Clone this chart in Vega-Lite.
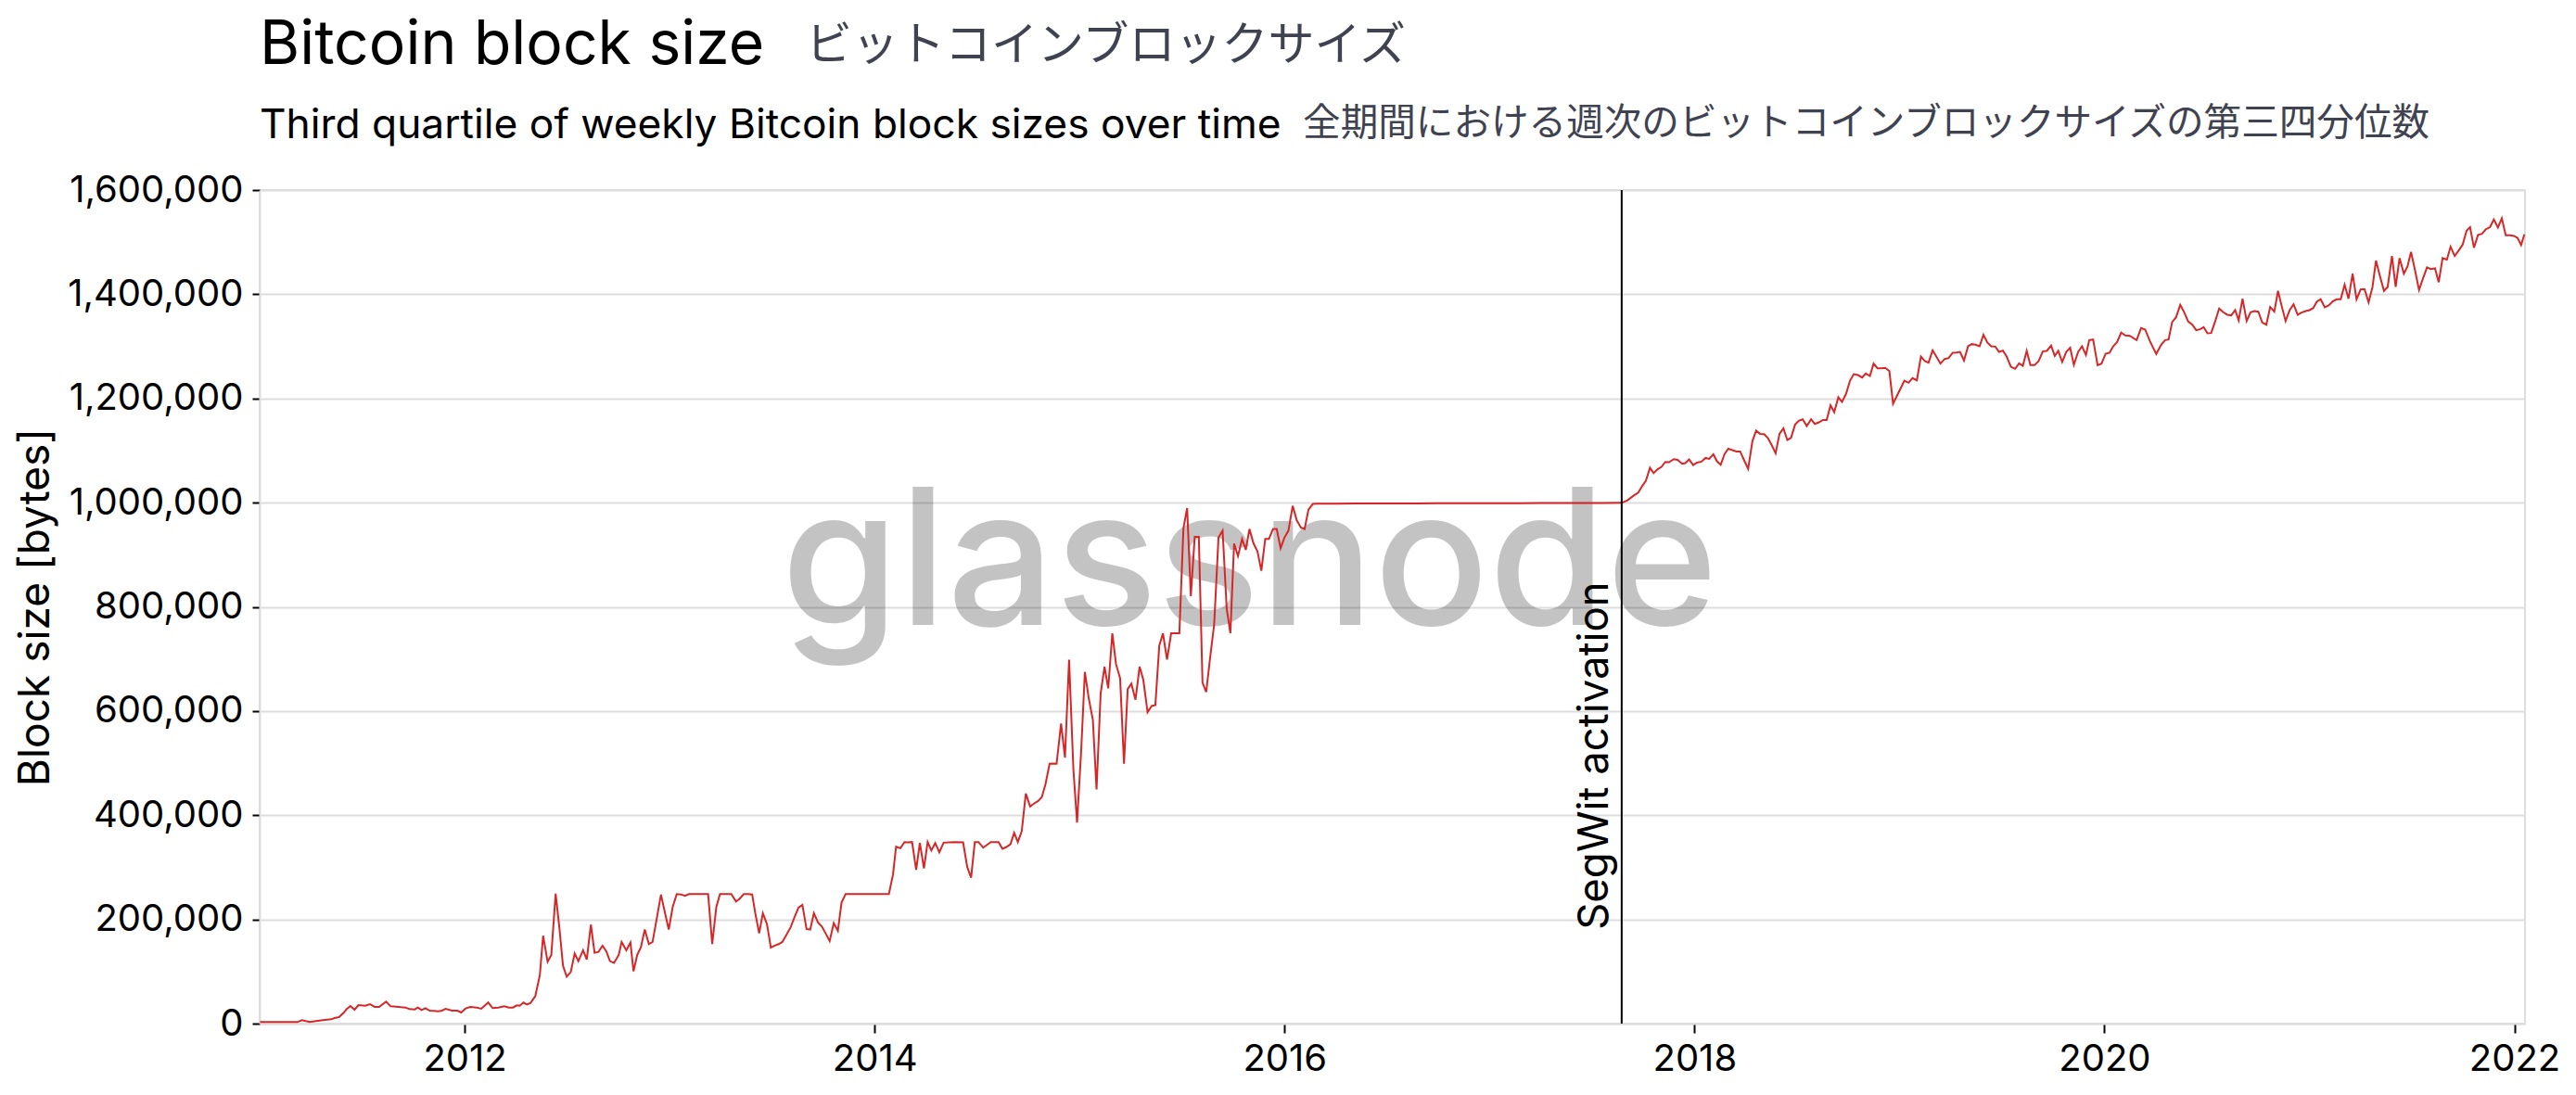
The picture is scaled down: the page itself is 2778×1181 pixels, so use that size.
{
  "$schema": "https://vega.github.io/schema/vega-lite/v6.json",
  "width": 2443,
  "height": 899,
  "autosize": {"type": "none"},
  "padding": {"left": 280, "top": 205, "right": 55, "bottom": 77},
  "background": "white",
  "config": {"view": {"stroke": "#dddddd", "strokeWidth": 2}},
  "title": {
    "text": "Bitcoin block size",
    "subtitle": "Third quartile of weekly Bitcoin block sizes over time",
    "anchor": "start",
    "frame": "group",
    "font": "Inter",
    "fontSize": 66,
    "fontWeight": "normal",
    "color": "#000000",
    "subtitleFont": "Inter",
    "subtitleFontSize": 44.3,
    "subtitleColor": "#000000",
    "subtitlePadding": 31,
    "offset": -134
  },
  "datasets": {
    "blocks": [
      {"year": 2011.002, "bytes": 3000}, {"year": 2011.05, "bytes": 3000}, {"year": 2011.10, "bytes": 3100}, {"year": 2011.15, "bytes": 3000},
      {"year": 2011.184, "bytes": 3000}, {"year": 2011.206, "bytes": 6500}, {"year": 2011.244, "bytes": 3000}, {"year": 2011.274, "bytes": 4700},
      {"year": 2011.319, "bytes": 7100}, {"year": 2011.350, "bytes": 8300}, {"year": 2011.365, "bytes": 10700}, {"year": 2011.387, "bytes": 12500},
      {"year": 2011.410, "bytes": 20800}, {"year": 2011.425, "bytes": 27900}, {"year": 2011.443, "bytes": 33800}, {"year": 2011.463, "bytes": 26700},
      {"year": 2011.482, "bytes": 35600}, {"year": 2011.515, "bytes": 34400}, {"year": 2011.538, "bytes": 37400}, {"year": 2011.561, "bytes": 32100},
      {"year": 2011.583, "bytes": 32100}, {"year": 2011.617, "bytes": 42200}, {"year": 2011.639, "bytes": 33200}, {"year": 2011.666, "bytes": 32600},
      {"year": 2011.690, "bytes": 31500}, {"year": 2011.712, "bytes": 30900}, {"year": 2011.730, "bytes": 27900}, {"year": 2011.757, "bytes": 27300},
      {"year": 2011.772, "bytes": 30900}, {"year": 2011.790, "bytes": 26100}, {"year": 2011.809, "bytes": 29700}, {"year": 2011.829, "bytes": 24900},
      {"year": 2011.850, "bytes": 24500}, {"year": 2011.870, "bytes": 23700}, {"year": 2011.890, "bytes": 25000}, {"year": 2011.907, "bytes": 28500},
      {"year": 2011.938, "bytes": 24900}, {"year": 2011.965, "bytes": 24900}, {"year": 2011.983, "bytes": 21400}, {"year": 2012.005, "bytes": 29100},
      {"year": 2012.028, "bytes": 32100}, {"year": 2012.058, "bytes": 30900}, {"year": 2012.081, "bytes": 28500}, {"year": 2012.115, "bytes": 40400},
      {"year": 2012.137, "bytes": 29700}, {"year": 2012.164, "bytes": 30900}, {"year": 2012.194, "bytes": 33200}, {"year": 2012.216, "bytes": 30900},
      {"year": 2012.236, "bytes": 30900}, {"year": 2012.254, "bytes": 35000}, {"year": 2012.269, "bytes": 34400}, {"year": 2012.287, "bytes": 40400},
      {"year": 2012.304, "bytes": 36800}, {"year": 2012.322, "bytes": 39800}, {"year": 2012.345, "bytes": 52800}, {"year": 2012.367, "bytes": 93200},
      {"year": 2012.383, "bytes": 168600}, {"year": 2012.405, "bytes": 118700}, {"year": 2012.423, "bytes": 131800}, {"year": 2012.444, "bytes": 249300},
      {"year": 2012.462, "bytes": 185200}, {"year": 2012.480, "bytes": 111000}, {"year": 2012.498, "bytes": 90200}, {"year": 2012.518, "bytes": 99100},
      {"year": 2012.537, "bytes": 134800}, {"year": 2012.555, "bytes": 119900}, {"year": 2012.578, "bytes": 140700}, {"year": 2012.596, "bytes": 122900},
      {"year": 2012.616, "bytes": 190000}, {"year": 2012.634, "bytes": 135900}, {"year": 2012.653, "bytes": 137700}, {"year": 2012.673, "bytes": 149600},
      {"year": 2012.691, "bytes": 138900}, {"year": 2012.709, "bytes": 119900}, {"year": 2012.729, "bytes": 116400}, {"year": 2012.752, "bytes": 131800},
      {"year": 2012.766, "bytes": 156700}, {"year": 2012.789, "bytes": 140700}, {"year": 2012.809, "bytes": 155500}, {"year": 2012.824, "bytes": 100300},
      {"year": 2012.842, "bytes": 131800}, {"year": 2012.860, "bytes": 146600}, {"year": 2012.879, "bytes": 180500}, {"year": 2012.899, "bytes": 152600},
      {"year": 2012.917, "bytes": 156700}, {"year": 2012.938, "bytes": 203000}, {"year": 2012.958, "bytes": 247600}, {"year": 2012.978, "bytes": 211900},
      {"year": 2012.996, "bytes": 180500}, {"year": 2013.015, "bytes": 223800}, {"year": 2013.035, "bytes": 248700}, {"year": 2013.056, "bytes": 248000},
      {"year": 2013.075, "bytes": 245200}, {"year": 2013.095, "bytes": 248700}, {"year": 2013.115, "bytes": 248700}, {"year": 2013.135, "bytes": 248600},
      {"year": 2013.158, "bytes": 248700}, {"year": 2013.188, "bytes": 248700}, {"year": 2013.208, "bytes": 152600}, {"year": 2013.228, "bytes": 223800},
      {"year": 2013.246, "bytes": 248700}, {"year": 2013.272, "bytes": 248700}, {"year": 2013.301, "bytes": 248700}, {"year": 2013.324, "bytes": 234500},
      {"year": 2013.342, "bytes": 239800}, {"year": 2013.362, "bytes": 248700}, {"year": 2013.381, "bytes": 248700}, {"year": 2013.403, "bytes": 248000},
      {"year": 2013.418, "bytes": 211900}, {"year": 2013.437, "bytes": 173300}, {"year": 2013.455, "bytes": 211900}, {"year": 2013.475, "bytes": 191200},
      {"year": 2013.494, "bytes": 146000}, {"year": 2013.513, "bytes": 149600}, {"year": 2013.532, "bytes": 152600}, {"year": 2013.550, "bytes": 156700},
      {"year": 2013.570, "bytes": 170400}, {"year": 2013.591, "bytes": 185200}, {"year": 2013.611, "bytes": 206000}, {"year": 2013.629, "bytes": 222600},
      {"year": 2013.648, "bytes": 228000}, {"year": 2013.668, "bytes": 181700}, {"year": 2013.686, "bytes": 180500}, {"year": 2013.704, "bytes": 211900},
      {"year": 2013.724, "bytes": 194100}, {"year": 2013.743, "bytes": 186400}, {"year": 2013.761, "bytes": 173300}, {"year": 2013.781, "bytes": 158500},
      {"year": 2013.801, "bytes": 192900}, {"year": 2013.821, "bytes": 178100}, {"year": 2013.839, "bytes": 232700}, {"year": 2013.859, "bytes": 248700},
      {"year": 2013.880, "bytes": 248700}, {"year": 2013.900, "bytes": 248800}, {"year": 2013.920, "bytes": 248700}, {"year": 2013.940, "bytes": 248700},
      {"year": 2013.960, "bytes": 248700}, {"year": 2013.980, "bytes": 248700}, {"year": 2014.000, "bytes": 248700}, {"year": 2014.020, "bytes": 248700},
      {"year": 2014.040, "bytes": 248700}, {"year": 2014.070, "bytes": 248700}, {"year": 2014.090, "bytes": 286200}, {"year": 2014.105, "bytes": 339600},
      {"year": 2014.126, "bytes": 336600}, {"year": 2014.146, "bytes": 348500}, {"year": 2014.165, "bytes": 348000}, {"year": 2014.183, "bytes": 348500},
      {"year": 2014.203, "bytes": 295100}, {"year": 2014.221, "bytes": 346700}, {"year": 2014.241, "bytes": 298000}, {"year": 2014.259, "bytes": 348500},
      {"year": 2014.277, "bytes": 332400}, {"year": 2014.296, "bytes": 346700}, {"year": 2014.316, "bytes": 328900}, {"year": 2014.337, "bytes": 347300},
      {"year": 2014.364, "bytes": 348000}, {"year": 2014.394, "bytes": 348500}, {"year": 2014.432, "bytes": 348000}, {"year": 2014.452, "bytes": 301000},
      {"year": 2014.471, "bytes": 280200}, {"year": 2014.489, "bytes": 348500}, {"year": 2014.507, "bytes": 348500}, {"year": 2014.530, "bytes": 337800},
      {"year": 2014.567, "bytes": 348500}, {"year": 2014.605, "bytes": 348500}, {"year": 2014.624, "bytes": 335400}, {"year": 2014.643, "bytes": 339000},
      {"year": 2014.663, "bytes": 344300}, {"year": 2014.681, "bytes": 366300}, {"year": 2014.699, "bytes": 348500}, {"year": 2014.718, "bytes": 369300},
      {"year": 2014.738, "bytes": 441700}, {"year": 2014.759, "bytes": 416800}, {"year": 2014.779, "bytes": 422700}, {"year": 2014.798, "bytes": 427400},
      {"year": 2014.816, "bytes": 434600}, {"year": 2014.834, "bytes": 459500}, {"year": 2014.854, "bytes": 498700}, {"year": 2014.871, "bytes": 499000},
      {"year": 2014.888, "bytes": 498700}, {"year": 2014.910, "bytes": 575900}, {"year": 2014.929, "bytes": 510600}, {"year": 2014.949, "bytes": 698700},
      {"year": 2014.970, "bytes": 488000}, {"year": 2014.988, "bytes": 385900}, {"year": 2015.008, "bytes": 523600}, {"year": 2015.026, "bytes": 675000},
      {"year": 2015.045, "bytes": 624500}, {"year": 2015.065, "bytes": 583000}, {"year": 2015.083, "bytes": 449400}, {"year": 2015.103, "bytes": 633400},
      {"year": 2015.122, "bytes": 685100}, {"year": 2015.140, "bytes": 643500}, {"year": 2015.160, "bytes": 749200}, {"year": 2015.178, "bytes": 689800},
      {"year": 2015.198, "bytes": 663100}, {"year": 2015.217, "bytes": 498700}, {"year": 2015.235, "bytes": 642300}, {"year": 2015.253, "bytes": 652400},
      {"year": 2015.273, "bytes": 621600}, {"year": 2015.293, "bytes": 685100}, {"year": 2015.311, "bytes": 660200}, {"year": 2015.332, "bytes": 597800},
      {"year": 2015.352, "bytes": 609700}, {"year": 2015.370, "bytes": 611500}, {"year": 2015.389, "bytes": 725500}, {"year": 2015.407, "bytes": 749200},
      {"year": 2015.427, "bytes": 698700}, {"year": 2015.447, "bytes": 749200}, {"year": 2015.467, "bytes": 749200}, {"year": 2015.487, "bytes": 749200},
      {"year": 2015.507, "bytes": 951100}, {"year": 2015.525, "bytes": 989600}, {"year": 2015.543, "bytes": 820400}, {"year": 2015.562, "bytes": 934400},
      {"year": 2015.582, "bytes": 934400}, {"year": 2015.600, "bytes": 654200}, {"year": 2015.618, "bytes": 636400}, {"year": 2015.637, "bytes": 701700},
      {"year": 2015.657, "bytes": 767000}, {"year": 2015.678, "bytes": 933200}, {"year": 2015.698, "bytes": 946300}, {"year": 2015.718, "bytes": 796700},
      {"year": 2015.736, "bytes": 749200}, {"year": 2015.754, "bytes": 921400}, {"year": 2015.773, "bytes": 897600}, {"year": 2015.793, "bytes": 930300},
      {"year": 2015.811, "bytes": 909500}, {"year": 2015.829, "bytes": 949300}, {"year": 2015.849, "bytes": 921400}, {"year": 2015.868, "bytes": 906500},
      {"year": 2015.887, "bytes": 869100}, {"year": 2015.906, "bytes": 930300}, {"year": 2015.924, "bytes": 930300}, {"year": 2015.944, "bytes": 949300},
      {"year": 2015.962, "bytes": 949300}, {"year": 2015.981, "bytes": 912500}, {"year": 2016.000, "bytes": 933200}, {"year": 2016.019, "bytes": 946300},
      {"year": 2016.040, "bytes": 993800}, {"year": 2016.060, "bytes": 965900}, {"year": 2016.080, "bytes": 952200}, {"year": 2016.098, "bytes": 949300},
      {"year": 2016.117, "bytes": 986700}, {"year": 2016.138, "bytes": 997400}, {"year": 2016.16, "bytes": 998000}, {"year": 2016.25, "bytes": 998200},
      {"year": 2016.35, "bytes": 998300}, {"year": 2016.45, "bytes": 998400}, {"year": 2016.55, "bytes": 998600}, {"year": 2016.65, "bytes": 998500},
      {"year": 2016.75, "bytes": 998700}, {"year": 2016.85, "bytes": 998800}, {"year": 2016.95, "bytes": 999000}, {"year": 2017.05, "bytes": 998900},
      {"year": 2017.15, "bytes": 999100}, {"year": 2017.25, "bytes": 999200}, {"year": 2017.35, "bytes": 999300}, {"year": 2017.45, "bytes": 999400},
      {"year": 2017.55, "bytes": 999500}, {"year": 2017.646, "bytes": 999700}, {"year": 2017.673, "bytes": 1004500}, {"year": 2017.703, "bytes": 1013400},
      {"year": 2017.726, "bytes": 1019300}, {"year": 2017.744, "bytes": 1031200}, {"year": 2017.763, "bytes": 1041900}, {"year": 2017.783, "bytes": 1066800},
      {"year": 2017.801, "bytes": 1056700}, {"year": 2017.819, "bytes": 1063800}, {"year": 2017.839, "bytes": 1068600}, {"year": 2017.858, "bytes": 1078100},
      {"year": 2017.876, "bytes": 1077500}, {"year": 2017.899, "bytes": 1083400}, {"year": 2017.918, "bytes": 1082200}, {"year": 2017.940, "bytes": 1074500},
      {"year": 2017.955, "bytes": 1075700}, {"year": 2017.974, "bytes": 1082800}, {"year": 2017.994, "bytes": 1072200}, {"year": 2018.012, "bytes": 1076900},
      {"year": 2018.034, "bytes": 1078700}, {"year": 2018.054, "bytes": 1085800}, {"year": 2018.072, "bytes": 1084000}, {"year": 2018.092, "bytes": 1092900},
      {"year": 2018.110, "bytes": 1079300}, {"year": 2018.128, "bytes": 1072700}, {"year": 2018.147, "bytes": 1093500}, {"year": 2018.165, "bytes": 1103600},
      {"year": 2018.185, "bytes": 1100700}, {"year": 2018.205, "bytes": 1098300}, {"year": 2018.223, "bytes": 1098300}, {"year": 2018.242, "bytes": 1081700},
      {"year": 2018.262, "bytes": 1065000}, {"year": 2018.283, "bytes": 1118500}, {"year": 2018.301, "bytes": 1138100}, {"year": 2018.320, "bytes": 1132100},
      {"year": 2018.340, "bytes": 1131600}, {"year": 2018.358, "bytes": 1124400}, {"year": 2018.378, "bytes": 1109600}, {"year": 2018.396, "bytes": 1094700},
      {"year": 2018.415, "bytes": 1132100}, {"year": 2018.434, "bytes": 1142800}, {"year": 2018.453, "bytes": 1120200}, {"year": 2018.471, "bytes": 1124400},
      {"year": 2018.491, "bytes": 1149900}, {"year": 2018.509, "bytes": 1157000}, {"year": 2018.528, "bytes": 1160000}, {"year": 2018.548, "bytes": 1147000},
      {"year": 2018.569, "bytes": 1160000}, {"year": 2018.587, "bytes": 1151100}, {"year": 2018.607, "bytes": 1154100}, {"year": 2018.627, "bytes": 1158800},
      {"year": 2018.645, "bytes": 1158800}, {"year": 2018.664, "bytes": 1186700}, {"year": 2018.682, "bytes": 1173700}, {"year": 2018.702, "bytes": 1202200},
      {"year": 2018.720, "bytes": 1193300}, {"year": 2018.740, "bytes": 1209300}, {"year": 2018.759, "bytes": 1234200}, {"year": 2018.777, "bytes": 1246700},
      {"year": 2018.798, "bytes": 1244900}, {"year": 2018.818, "bytes": 1240200}, {"year": 2018.836, "bytes": 1247900}, {"year": 2018.856, "bytes": 1243100},
      {"year": 2018.874, "bytes": 1266900}, {"year": 2018.893, "bytes": 1258000}, {"year": 2018.913, "bytes": 1258000}, {"year": 2018.931, "bytes": 1258600},
      {"year": 2018.951, "bytes": 1252600}, {"year": 2018.969, "bytes": 1189700}, {"year": 2018.991, "bytes": 1207600}, {"year": 2019.008, "bytes": 1221000},
      {"year": 2019.024, "bytes": 1234200}, {"year": 2019.044, "bytes": 1230100}, {"year": 2019.064, "bytes": 1239000}, {"year": 2019.085, "bytes": 1234800},
      {"year": 2019.105, "bytes": 1280500}, {"year": 2019.124, "bytes": 1271600}, {"year": 2019.142, "bytes": 1268700}, {"year": 2019.162, "bytes": 1292400},
      {"year": 2019.180, "bytes": 1280500}, {"year": 2019.200, "bytes": 1266900}, {"year": 2019.221, "bytes": 1275800}, {"year": 2019.240, "bytes": 1277600},
      {"year": 2019.260, "bytes": 1287700}, {"year": 2019.278, "bytes": 1288300}, {"year": 2019.296, "bytes": 1289400}, {"year": 2019.315, "bytes": 1272800},
      {"year": 2019.335, "bytes": 1300100}, {"year": 2019.353, "bytes": 1304300}, {"year": 2019.371, "bytes": 1303100}, {"year": 2019.391, "bytes": 1300100},
      {"year": 2019.410, "bytes": 1322100}, {"year": 2019.429, "bytes": 1307300}, {"year": 2019.448, "bytes": 1300100}, {"year": 2019.468, "bytes": 1299500},
      {"year": 2019.486, "bytes": 1289400}, {"year": 2019.505, "bytes": 1291800}, {"year": 2019.523, "bytes": 1280500}, {"year": 2019.544, "bytes": 1260900},
      {"year": 2019.564, "bytes": 1256800}, {"year": 2019.584, "bytes": 1267500}, {"year": 2019.602, "bytes": 1262700}, {"year": 2019.621, "bytes": 1291200},
      {"year": 2019.639, "bytes": 1263900}, {"year": 2019.659, "bytes": 1263900}, {"year": 2019.679, "bytes": 1271600}, {"year": 2019.700, "bytes": 1290600},
      {"year": 2019.719, "bytes": 1291200}, {"year": 2019.740, "bytes": 1301300}, {"year": 2019.758, "bytes": 1281700}, {"year": 2019.775, "bytes": 1291200},
      {"year": 2019.794, "bytes": 1269900}, {"year": 2019.814, "bytes": 1289400}, {"year": 2019.833, "bytes": 1297200}, {"year": 2019.851, "bytes": 1264500},
      {"year": 2019.872, "bytes": 1289400}, {"year": 2019.891, "bytes": 1300100}, {"year": 2019.910, "bytes": 1283500}, {"year": 2019.926, "bytes": 1312000},
      {"year": 2019.945, "bytes": 1313200}, {"year": 2019.967, "bytes": 1263900}, {"year": 2019.986, "bytes": 1266900}, {"year": 2020.006, "bytes": 1285900},
      {"year": 2020.025, "bytes": 1287700}, {"year": 2020.043, "bytes": 1300100}, {"year": 2020.062, "bytes": 1308400}, {"year": 2020.082, "bytes": 1326300},
      {"year": 2020.102, "bytes": 1320900}, {"year": 2020.124, "bytes": 1320300}, {"year": 2020.157, "bytes": 1312000}, {"year": 2020.179, "bytes": 1335200},
      {"year": 2020.199, "bytes": 1332200}, {"year": 2020.222, "bytes": 1310200}, {"year": 2020.253, "bytes": 1285300}, {"year": 2020.277, "bytes": 1303100},
      {"year": 2020.296, "bytes": 1312000}, {"year": 2020.313, "bytes": 1313200}, {"year": 2020.331, "bytes": 1347000}, {"year": 2020.350, "bytes": 1355900},
      {"year": 2020.370, "bytes": 1379700}, {"year": 2020.390, "bytes": 1364800}, {"year": 2020.409, "bytes": 1347600}, {"year": 2020.429, "bytes": 1341700},
      {"year": 2020.448, "bytes": 1331000}, {"year": 2020.467, "bytes": 1332800}, {"year": 2020.484, "bytes": 1336900}, {"year": 2020.503, "bytes": 1325100},
      {"year": 2020.521, "bytes": 1325700}, {"year": 2020.541, "bytes": 1348800}, {"year": 2020.560, "bytes": 1372600}, {"year": 2020.580, "bytes": 1365400},
      {"year": 2020.600, "bytes": 1360700}, {"year": 2020.619, "bytes": 1359500}, {"year": 2020.638, "bytes": 1369600}, {"year": 2020.655, "bytes": 1350000},
      {"year": 2020.674, "bytes": 1391500}, {"year": 2020.694, "bytes": 1348800}, {"year": 2020.713, "bytes": 1365400}, {"year": 2020.731, "bytes": 1367800},
      {"year": 2020.751, "bytes": 1366600}, {"year": 2020.770, "bytes": 1345900}, {"year": 2020.790, "bytes": 1341700}, {"year": 2020.809, "bytes": 1375500},
      {"year": 2020.829, "bytes": 1366600}, {"year": 2020.847, "bytes": 1406400}, {"year": 2020.865, "bytes": 1377300}, {"year": 2020.884, "bytes": 1348800},
      {"year": 2020.904, "bytes": 1369600}, {"year": 2020.923, "bytes": 1380900}, {"year": 2020.943, "bytes": 1360700}, {"year": 2020.962, "bytes": 1364800},
      {"year": 2020.982, "bytes": 1367800}, {"year": 2021.001, "bytes": 1369600}, {"year": 2021.019, "bytes": 1373700}, {"year": 2021.036, "bytes": 1385600},
      {"year": 2021.055, "bytes": 1390400}, {"year": 2021.075, "bytes": 1374900}, {"year": 2021.094, "bytes": 1378500}, {"year": 2021.114, "bytes": 1386200},
      {"year": 2021.133, "bytes": 1390400}, {"year": 2021.153, "bytes": 1390400}, {"year": 2021.172, "bytes": 1418300}, {"year": 2021.191, "bytes": 1391500},
      {"year": 2021.211, "bytes": 1439600}, {"year": 2021.230, "bytes": 1390400}, {"year": 2021.250, "bytes": 1409400}, {"year": 2021.269, "bytes": 1410000},
      {"year": 2021.289, "bytes": 1384400}, {"year": 2021.308, "bytes": 1414100}, {"year": 2021.325, "bytes": 1464600}, {"year": 2021.343, "bytes": 1436700},
      {"year": 2021.364, "bytes": 1406400}, {"year": 2021.382, "bytes": 1414100}, {"year": 2021.403, "bytes": 1473500}, {"year": 2021.421, "bytes": 1414100},
      {"year": 2021.440, "bytes": 1469300}, {"year": 2021.461, "bytes": 1439600}, {"year": 2021.479, "bytes": 1453900}, {"year": 2021.496, "bytes": 1481200},
      {"year": 2021.515, "bytes": 1446800}, {"year": 2021.535, "bytes": 1408200}, {"year": 2021.553, "bytes": 1428900}, {"year": 2021.574, "bytes": 1451500},
      {"year": 2021.592, "bytes": 1448500}, {"year": 2021.613, "bytes": 1449700}, {"year": 2021.631, "bytes": 1423000}, {"year": 2021.650, "bytes": 1469300},
      {"year": 2021.671, "bytes": 1466400}, {"year": 2021.689, "bytes": 1491300}, {"year": 2021.709, "bytes": 1473500}, {"year": 2021.728, "bytes": 1483600},
      {"year": 2021.748, "bytes": 1495500}, {"year": 2021.767, "bytes": 1522200}, {"year": 2021.784, "bytes": 1528700}, {"year": 2021.803, "bytes": 1489500},
      {"year": 2021.823, "bytes": 1513900}, {"year": 2021.842, "bytes": 1516200}, {"year": 2021.862, "bytes": 1525100}, {"year": 2021.881, "bytes": 1528700},
      {"year": 2021.900, "bytes": 1543500}, {"year": 2021.920, "bytes": 1528100}, {"year": 2021.939, "bytes": 1545900}, {"year": 2021.958, "bytes": 1513300},
      {"year": 2021.979, "bytes": 1513300}, {"year": 2021.998, "bytes": 1512100}, {"year": 2022.016, "bytes": 1507900}, {"year": 2022.033, "bytes": 1494300},
      {"year": 2022.049, "bytes": 1515000}
    ]
  },
  "encoding": {
    "x": {
      "type": "quantitative",
      "scale": {"domain": [2011.0, 2022.052], "nice": false, "zero": false},
      "axis": {
        "title": null,
        "values": [2012, 2014, 2016, 2018, 2020, 2022],
        "format": "d",
        "grid": false,
        "domainColor": "#dddddd",
        "domainWidth": 2,
        "tickColor": "#000000",
        "tickSize": 10,
        "tickWidth": 2,
        "labelFont": "Inter",
        "labelFontSize": 40,
        "labelColor": "#000000",
        "labelPadding": 8,
        "labelFlush": false,
        "labelOverlap": false
      }
    },
    "y": {
      "type": "quantitative",
      "scale": {"domain": [0, 1600000], "nice": false, "zero": true},
      "axis": {
        "title": "Block size [bytes]",
        "titleFont": "Inter",
        "titleFontSize": 46,
        "titleFontWeight": "normal",
        "titleColor": "#000000",
        "titlePadding": 18,
        "values": [0, 200000, 400000, 600000, 800000, 1000000, 1200000, 1400000, 1600000],
        "format": ",.0f",
        "grid": true,
        "gridColor": "#dddddd",
        "gridWidth": 2,
        "domainColor": "#dddddd",
        "domainWidth": 2,
        "tickColor": "#000000",
        "tickSize": 8,
        "tickWidth": 2,
        "labelFont": "Inter",
        "labelFontSize": 40,
        "labelColor": "#000000",
        "labelPadding": 10,
        "labelLimit": 400
      }
    }
  },
  "layer": [
    {
      "data": {"values": [{"label": "glassnode"}]},
      "mark": {"type": "text", "font": "Inter", "fontSize": 205, "fontWeight": 500, "color": "#000000", "opacity": 0.23, "align": "center", "baseline": "alphabetic"},
      "encoding": {
        "x": {"datum": 2015.83},
        "y": {"datum": 765000},
        "text": {"field": "label"}
      }
    },
    {
      "data": {"name": "blocks"},
      "mark": {"type": "line", "color": "#d62728", "strokeWidth": 2},
      "encoding": {
        "x": {"field": "year"},
        "y": {"field": "bytes"}
      }
    },
    {
      "data": {"values": [{"event": "SegWit activation"}]},
      "mark": {"type": "rule", "color": "#000000", "strokeWidth": 2},
      "encoding": {"x": {"datum": 2017.645}}
    },
    {
      "data": {"values": [{"event": "SegWit activation"}]},
      "mark": {"type": "text", "font": "Inter", "fontSize": 45.5, "color": "#000000", "angle": 270, "align": "left", "baseline": "alphabetic", "dy": -15},
      "encoding": {
        "x": {"datum": 2017.645},
        "y": {"datum": 180000},
        "text": {"field": "event"}
      }
    },
    {
      "data": {"values": [{"label": "ビットコインブロックサイズ"}]},
      "mark": {"type": "text", "font": "Noto Sans CJK JP", "fontSize": 50, "color": "#3f4250", "align": "left", "baseline": "middle"},
      "encoding": {
        "x": {"datum": 2013.665},
        "y": {"datum": 1876000},
        "text": {"field": "label"}
      }
    },
    {
      "data": {"values": [{"label": "全期間における週次のビットコインブロックサイズの第三四分位数"}]},
      "mark": {"type": "text", "font": "Noto Sans CJK JP", "fontSize": 40.6, "color": "#3f4250", "align": "left", "baseline": "middle"},
      "encoding": {
        "x": {"datum": 2016.09},
        "y": {"datum": 1725800},
        "text": {"field": "label"}
      }
    }
  ]
}
